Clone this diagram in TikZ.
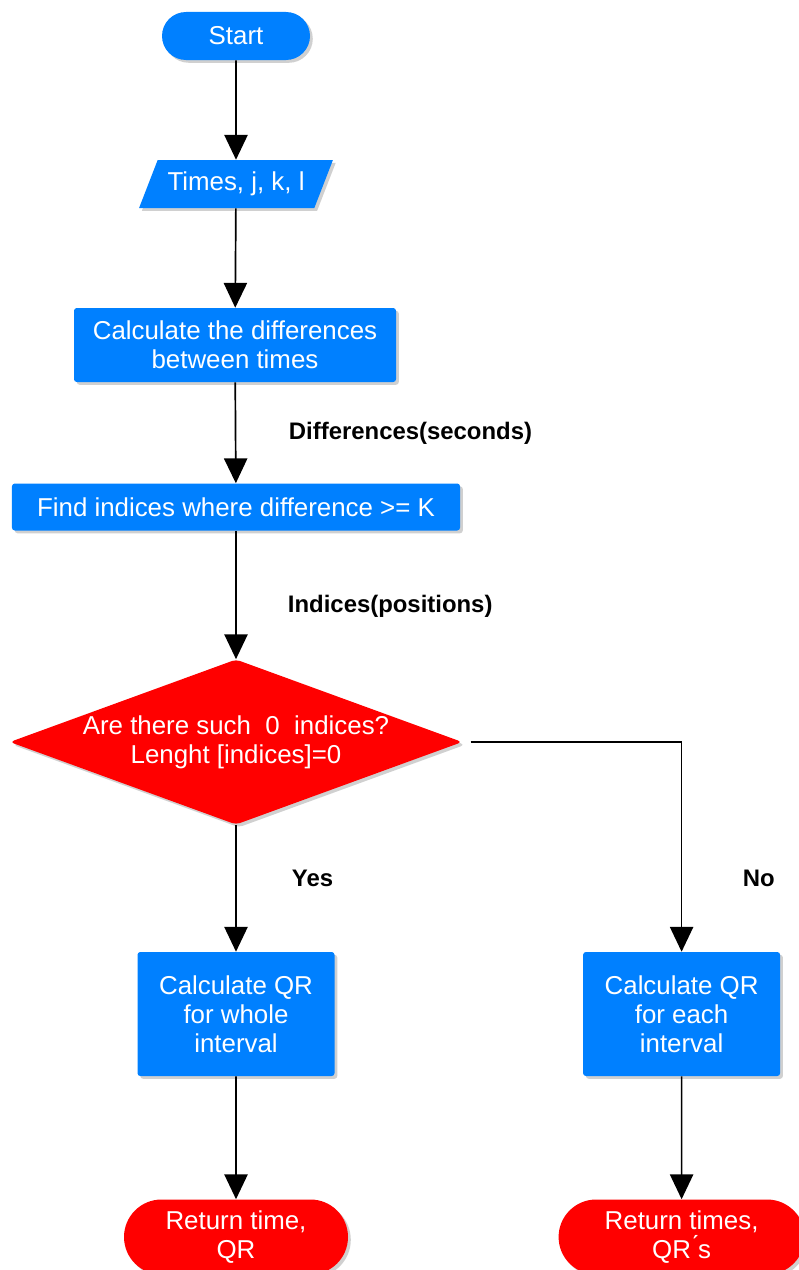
\documentclass[tikz,border=0pt]{standalone}
\usepackage{fontspec}
\setmainfont{Liberation Sans}
\usetikzlibrary{shapes.geometric,shapes.misc,shadows,arrows.meta}
\definecolor{flowblue}{RGB}{0,128,255}
\definecolor{flowred}{RGB}{255,0,0}
\tikzset{
  shade/.style={drop shadow={shadow xshift=0.07cm,shadow yshift=-0.07cm,opacity=0.3,fill=black!60}},
  txt/.style={text=white,font=\fontsize{18.4pt}{20.8pt}\selectfont,align=center,inner sep=0pt},
  term/.style={rounded rectangle,fill=#1,shade,txt},
  iobox/.style={trapezium,trapezium left angle=56,trapezium right angle=124,trapezium stretches=true,fill=flowblue,shade,txt},
  procbox/.style={rectangle,rounded corners=2pt,fill=flowblue,shade,txt},
  decbox/.style={diamond,aspect=2.74,rounded corners=3pt,fill=flowred,shade,txt},
  lbl/.style={anchor=west,font=\fontsize{17pt}{20pt}\selectfont\bfseries},
  flow/.style={line width=1.2pt,-{Triangle[width=0.58cm,length=0.62cm]}}
}
\begin{document}
\begin{tikzpicture}
	\clip (0,0) rectangle (19.975,-31.75);
	\fill[white] (0,0) rectangle (19.975,-31.75);
	% nodes
	\node[term=flowblue,minimum width=3.7cm,minimum height=1.2cm] (start) at (5.9,-0.9) {Start};
	\node[iobox,minimum width=4.85cm,minimum height=1.2cm] (input) at (5.9,-4.6) {Times, j, k, l};
	\node[procbox,minimum width=8.05cm,minimum height=1.85cm] (diff) at (5.875,-8.625) {Calculate the differences\\between times};
	\node[procbox,minimum width=11.2cm,minimum height=1.175cm] (find) at (5.9,-12.675) {Find indices where difference >= K};
	\node[decbox,minimum width=11.3cm,minimum height=4.125cm] (check) at (5.9,-18.55) {Are there such\ \ 0\ \ indices?\\Lenght [indices]=0};
	\node[procbox,minimum width=4.925cm,minimum height=3.1cm] (whole) at (5.9,-25.35) {Calculate QR\\for whole\\interval};
	\node[procbox,minimum width=4.925cm,minimum height=3.1cm] (each) at (17.04,-25.35) {Calculate QR\\for each\\interval};
	\node[term=flowred,minimum width=5.6cm,minimum height=1.875cm] (endone) at (5.9,-30.925) {Return time,\\QR};
	\node[term=flowred,minimum width=6.15cm,minimum height=1.875cm] (endall) at (17.04,-30.925) {Return times,\\QR\'{}s};
	% labels
	\node[lbl] (lbldiff) at (7.1,-10.825) {Differences(seconds)};
	\node[lbl] (lblidx) at (7.075,-15.15) {Indices(positions)};
	\node[lbl] (lblyes) at (7.175,-21.95) {Yes};
	\node[lbl] (lblno) at (18.45,-21.95) {No};
	% connectors
	\draw[flow] (start) -- (input);
	\draw[flow] (input) -- (diff);
	\draw[flow] (diff) -- (find);
	\draw[flow] (find) -- (check);
	\draw[flow] (check) -- (whole);
	\draw[flow] ([xshift=0.2cm]check.east) -| (each.north);
	\draw[flow] (whole) -- (endone);
	\draw[flow] (each) -- (endall);
\end{tikzpicture}
\end{document}
